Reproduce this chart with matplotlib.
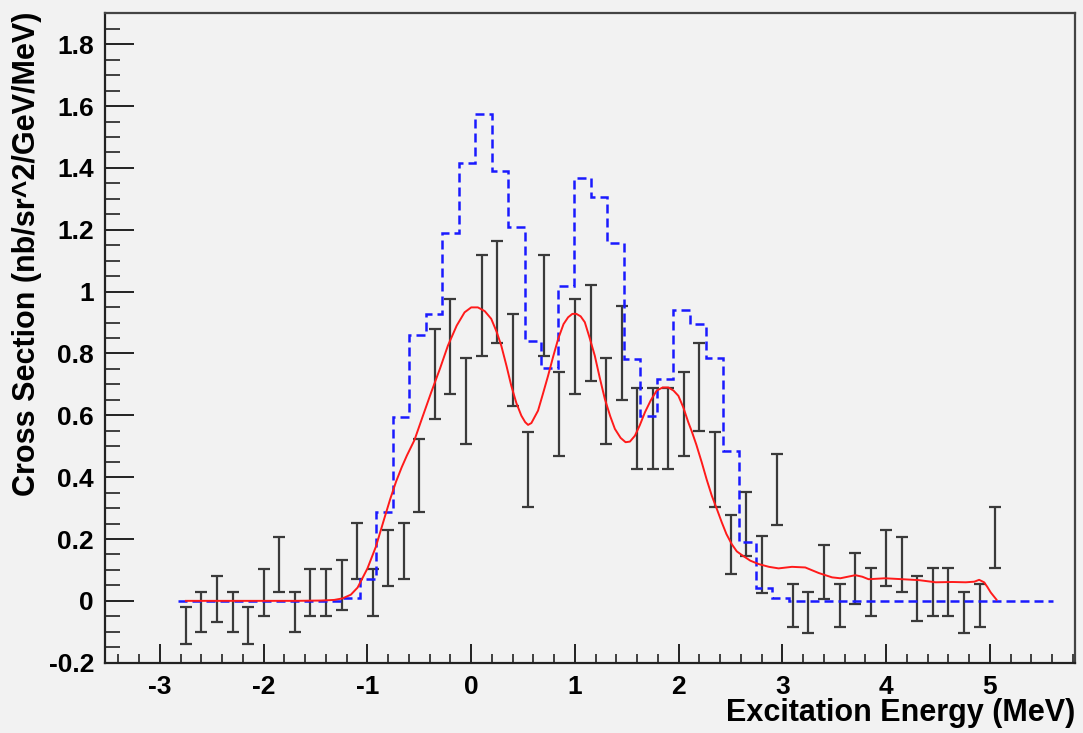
import numpy as np
import matplotlib
matplotlib.use("Agg")
import matplotlib.pyplot as plt
from matplotlib.ticker import MultipleLocator

# ---------------- data ----------------
x_data = [-2.75, -2.6, -2.45, -2.3, -2.15, -2.0, -1.85, -1.7, -1.55, -1.4,
          -1.25, -1.1, -0.95, -0.8, -0.65, -0.5, -0.35, -0.2, -0.05, 0.1,
          0.25, 0.4, 0.55, 0.7, 0.85, 1.0, 1.15, 1.3, 1.45, 1.6,
          1.75, 1.9, 2.05, 2.2, 2.35, 2.5, 2.65, 2.8, 2.95, 3.1,
          3.25, 3.4, 3.55, 3.7, 3.85, 4.0, 4.15, 4.3, 4.45, 4.6,
          4.75, 4.9, 5.05]
y_data = [-0.08, -0.036, 0.006, -0.036, -0.08, 0.028, 0.117, -0.036, 0.028, 0.028,
          0.051, 0.161, 0.028, 0.138, 0.161, 0.404, 0.734, 0.823, 0.646, 0.956,
          0.999, 0.78, 0.426, 0.956, 0.603, 0.823, 0.867, 0.646, 0.802, 0.557,
          0.557, 0.557, 0.604, 0.692, 0.426, 0.182, 0.249, 0.118, 0.36, -0.015,
          -0.037, 0.094, -0.015, 0.072, 0.028, 0.139, 0.118, 0.008, 0.028, 0.028,
          -0.037, -0.015, 0.205]
y_err = [0.059, 0.066, 0.073, 0.066, 0.059, 0.076, 0.088, 0.066, 0.076, 0.076,
         0.08, 0.091, 0.076, 0.09, 0.091, 0.118, 0.146, 0.153, 0.139, 0.163,
         0.165, 0.149, 0.121, 0.163, 0.136, 0.153, 0.156, 0.14, 0.152, 0.132,
         0.132, 0.132, 0.135, 0.143, 0.121, 0.096, 0.104, 0.091, 0.114, 0.069,
         0.067, 0.087, 0.069, 0.083, 0.077, 0.091, 0.088, 0.073, 0.077, 0.077,
         0.067, 0.069, 0.099]

# blue dashed histogram (53 bins)
hist_lo, hist_hi = -2.827, 5.606
hist_vals = [0, 0, 0, 0, 0, 0, 0, 0, 0, 0,
             0.01, 0.072, 0.288, 0.594, 0.86, 0.928, 1.188, 1.417, 1.573, 1.39,
             1.208, 0.841, 0.754, 1.019, 1.368, 1.307, 1.157, 0.782, 0.598, 0.718,
             0.941, 0.896, 0.785, 0.483, 0.191, 0.043, 0.009, 0, 0, 0,
             0, 0, 0, 0, 0, 0, 0, 0, 0, 0,
             0, 0, 0]

# red fit curve (read points)
fit_x = [-2.75, -2.2, -1.7, -1.45, -1.32, -1.24, -1.16, -1.095, -1.0, -0.918,
         -0.838, -0.78, -0.725, -0.67, -0.62, -0.547, -0.466, -0.386, -0.3, -0.225,
         -0.14, -0.064, 0.0, 0.064, 0.13, 0.193, 0.245, 0.29, 0.34, 0.386,
         0.435, 0.483, 0.52, 0.548, 0.58, 0.644, 0.69, 0.741, 0.79, 0.838,
         0.89, 0.934, 0.975, 1.014, 1.055, 1.095, 1.14, 1.191, 1.24, 1.288,
         1.34, 1.385, 1.44, 1.488, 1.53, 1.578, 1.625, 1.675, 1.73, 1.788,
         1.845, 1.9, 1.95, 1.997, 2.045, 2.093, 2.126, 2.17, 2.222, 2.27,
         2.319, 2.37, 2.415, 2.46, 2.512, 2.56, 2.609, 2.69, 2.77, 2.87,
         2.963, 3.092, 3.22, 3.35, 3.478, 3.558, 3.63, 3.703, 3.77, 3.83,
         3.99, 4.155, 4.316, 4.477, 4.638, 4.767, 4.85, 4.896, 4.944, 4.975,
         5.008, 5.063]
fit_y = [0.0, 0.0, 0.0, 0.001, 0.003, 0.008, 0.02, 0.043, 0.105, 0.176,
         0.266, 0.33, 0.385, 0.432, 0.47, 0.52, 0.598, 0.674, 0.752, 0.825,
         0.89, 0.933, 0.949, 0.949, 0.937, 0.912, 0.87, 0.825, 0.76, 0.696,
         0.64, 0.599, 0.578, 0.569, 0.575, 0.615, 0.668, 0.728, 0.79, 0.847,
         0.895, 0.917, 0.928, 0.928, 0.92, 0.901, 0.852, 0.793, 0.72, 0.653,
         0.597, 0.556, 0.527, 0.513, 0.515, 0.534, 0.568, 0.61, 0.648, 0.68,
         0.69, 0.69, 0.68, 0.663, 0.625, 0.577, 0.548, 0.505, 0.448, 0.392,
         0.34, 0.295, 0.254, 0.216, 0.183, 0.16, 0.148, 0.13, 0.119, 0.11,
         0.105, 0.11, 0.108, 0.09, 0.076, 0.073, 0.078, 0.083, 0.078, 0.07,
         0.073, 0.07, 0.067, 0.06, 0.061, 0.06, 0.062, 0.068, 0.06, 0.045,
         0.027, 0.004]

x_label = "Excitation Energy (MeV)"
y_label = "Cross Section (nb/sr^2/GeV/MeV)"

# ---------------- plot ----------------
bg = "#f2f2f2"
plt.rcParams["font.family"] = ["Liberation Sans", "DejaVu Sans"]
plt.rcParams["font.weight"] = "bold"

fig = plt.figure(figsize=(10.83, 7.33), dpi=100, facecolor=bg)
ax = fig.add_axes([105 / 1083, 1 - 662.7 / 733, 970 / 1083, (662.7 - 13.3) / 733])
ax.set_facecolor(bg)

edges = np.linspace(hist_lo, hist_hi, len(hist_vals) + 1)

ax.errorbar(x_data, y_data, yerr=y_err, fmt="none", ecolor="#3a3a3a",
            elinewidth=1.6, capsize=4.2, capthick=1.6, zorder=2)
ax.stairs(hist_vals, edges, baseline=None, color="#1a1aff", linewidth=1.8,
          linestyle=(0, (3.6, 2.0)), zorder=3)
ax.plot(fit_x, fit_y, color="#ff1a1a", linewidth=1.4, zorder=4)

ax.set_xlim(-3.53, 5.82)
ax.set_ylim(-0.2, 1.9)

ax.xaxis.set_major_locator(MultipleLocator(1))
ax.xaxis.set_minor_locator(MultipleLocator(0.2))
ax.yaxis.set_major_locator(MultipleLocator(0.2))
ax.yaxis.set_minor_locator(MultipleLocator(0.05))

def fmt(v, pos):
    s = f"{v:.1f}"
    if s.endswith(".0"):
        s = s[:-2]
    if s == "-0":
        s = "0"
    return s

ax.xaxis.set_major_formatter(plt.FuncFormatter(fmt))
ax.yaxis.set_major_formatter(plt.FuncFormatter(fmt))

ax.tick_params(axis="x", which="major", direction="in", length=13.4, width=1.4,
               color="#222222", labelsize=19, pad=9)
ax.tick_params(axis="x", which="minor", direction="in", length=6.7, width=1.2,
               color="#222222")
ax.tick_params(axis="y", which="major", direction="in", length=20.9, width=1.4,
               color="#222222", labelsize=19, pad=8)
ax.tick_params(axis="y", which="minor", direction="in", length=10.8, width=1.2,
               color="#222222")
for lab in ax.get_xticklabels() + ax.get_yticklabels():
    lab.set_fontweight("bold")

for side in ["left", "bottom"]:
    ax.spines[side].set_color("#222222")
    ax.spines[side].set_linewidth(1.6)
for side in ["top", "right"]:
    ax.spines[side].set_color("#444444")
    ax.spines[side].set_linewidth(1.6)

fig.text(1075 / 1083, 1 - 713 / 733, x_label, ha="right", va="center",
         fontsize=22, fontweight="bold")
fig.text(27 / 1083, 1 - 12 / 733, y_label, ha="center", va="top",
         rotation=90, fontsize=22, fontweight="bold")

fig.savefig("out.png", dpi=100, facecolor=bg)
